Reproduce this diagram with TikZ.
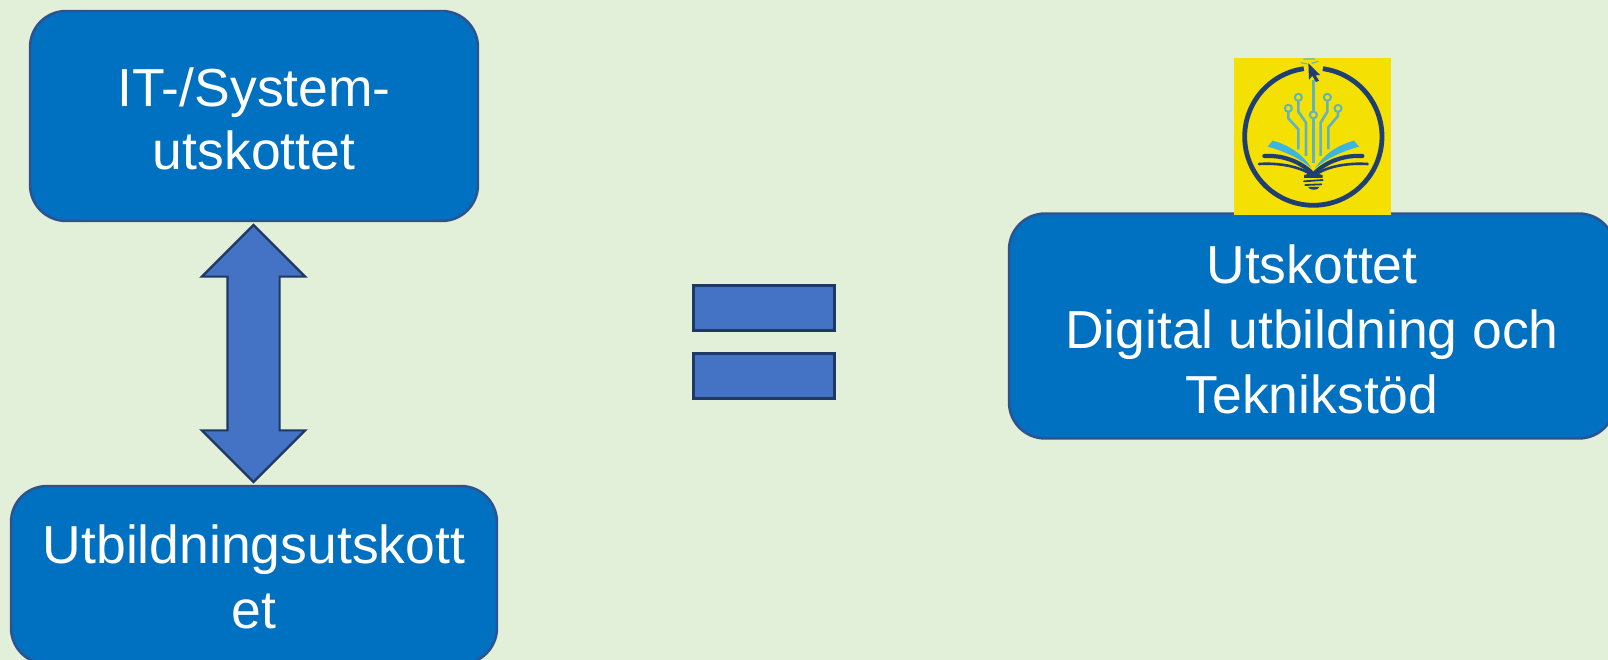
\documentclass[tikz,border=0pt]{standalone}
\usepackage{fontspec}
\setmainfont{Liberation Sans}
\usetikzlibrary{shapes.arrows}
\definecolor{bgcol}{HTML}{E2EFD9}
\definecolor{boxcol}{HTML}{0070C0}
\definecolor{boxline}{HTML}{2F528F}
\definecolor{arrcol}{HTML}{4472C4}
\definecolor{arrline}{HTML}{1F3864}
\definecolor{logoy}{HTML}{F5E003}
\definecolor{logod}{HTML}{1F3F73}
\definecolor{logot}{HTML}{5FB4C4}
\definecolor{logob}{HTML}{3DB5E0}
\tikzset{
  bluebox/.style={draw=boxline,line width=2.4pt,fill=boxcol,rounded corners=36pt,text=white,
    font=\fontsize{53.5}{65}\selectfont,align=center,inner sep=0pt},
  eqbar/.style={draw=arrline,line width=2.2pt,fill=arrcol,minimum width=141pt,minimum height=45pt,inner sep=0pt},
  circuit/.style={draw=logot,line width=2.6pt,line join=round},
  pad/.style={draw=logot,line width=2pt,fill=logoy},
  bookline/.style={draw=logod,line cap=round}
}
\begin{document}
\begin{tikzpicture}[x=1pt,y=-1pt]
\useasboundingbox (0,0) rectangle (1608,660);
\fill[bgcol] (0,0) rectangle (1608,660);
% boxes
\node[bluebox,minimum width=448pt,minimum height=210pt] (it) at (254,116) {\rule{0pt}{44pt}IT-/System-\\[-2pt]utskottet};
\node[bluebox,minimum width=486pt,minimum height=178pt] (utb) at (254,575) {\rule{0pt}{43pt}Utbildningsutskott\\et};
\node[bluebox,minimum width=606pt,minimum height=225pt] (uts) at (1312,326) {\rule{0pt}{45pt}Utskottet\\Digital utbildning och\\Teknikstöd};
% double arrow
\node[double arrow,draw=arrline,line width=2.2pt,fill=arrcol,rotate=90,
  minimum height=257pt,text height=50pt,text depth=0pt,text width=1pt,inner sep=0pt,
  double arrow head extend=25.5pt,double arrow tip angle=90,double arrow head indent=0pt] (dbl) at (253.5,353.5) {};
% equals sign
\node[eqbar] (eqa) at (764,308) {};
\node[eqbar] (eqb) at (764,376) {};
% logo
\fill[logoy] (1234,58) rectangle (1391,215);
\begin{scope}[shift={(1200,40)},x=0.33333pt,y=-0.33333pt]
  \draw[logod,line width=4.8pt] plot[smooth,samples=60,domain=-82:262] ({340+206*cos(\x)},{290+206*sin(\x)});
  % sparks
  \draw[logot,line width=1.2pt] (302,68) -- (322,72) (310,57) -- (345,57) (335,70) -- (355,64);
  % circuit traces
  \draw[circuit] (340,120) -- (340,370);
  \draw[circuit] (265,216) -- (265,235) -- (295,268) -- (295,328);
  \draw[circuit] (295,184) -- (295,215) -- (318,248) -- (318,348);
  \draw[circuit] (382,184) -- (382,215) -- (362,248) -- (362,348);
  \draw[circuit] (414,216) -- (414,228) -- (385,262) -- (385,328);
  \node[circle,pad,minimum size=7pt,inner sep=0pt] (p1) at (265,205) {};
  \node[circle,pad,minimum size=7pt,inner sep=0pt] (p2) at (295,172) {};
  \node[circle,pad,minimum size=7pt,inner sep=0pt] (p3) at (382,172) {};
  \node[circle,pad,minimum size=7pt,inner sep=0pt] (p4) at (414,205) {};
  \node[circle,pad,minimum size=7pt,inner sep=0pt] (p5) at (340,225) {};
  % cursor
  \fill[logod] (325,70) -- (360,105) -- (347,106) -- (357,122) -- (348,126) -- (337,108) -- (327,119) -- cycle;
  % book
  \fill[logob] (203,320) -- (218,302) .. controls (270,316) and (310,345) .. (335,385) .. controls (300,356) and (260,336) .. (203,320) -- cycle;
  \fill[logob] (477,320) -- (462,302) .. controls (410,316) and (370,345) .. (345,385) .. controls (380,356) and (420,336) .. (477,320) -- cycle;
  \draw[bookline,line width=4.2pt] (193,348) .. controls (250,345) and (300,365) .. (335,398);
  \draw[bookline,line width=4.2pt] (487,348) .. controls (430,345) and (380,365) .. (345,398);
  \draw[bookline,line width=2.6pt] (177,372) .. controls (240,368) and (300,380) .. (335,405);
  \draw[bookline,line width=2.6pt] (503,372) .. controls (440,368) and (380,380) .. (345,405);
  \fill[logod] (312,405) -- (340,398) -- (368,405) -- (368,414) -- (312,414) -- cycle;
  \draw[bookline,line width=1.8pt] (312,424) -- (368,420);
  \draw[bookline,line width=1.8pt] (316,435) -- (364,433);
  \fill[logod] (324,441) -- (358,441) .. controls (355,452) and (328,452) .. (324,441) -- cycle;
\end{scope}
\end{tikzpicture}
\end{document}
